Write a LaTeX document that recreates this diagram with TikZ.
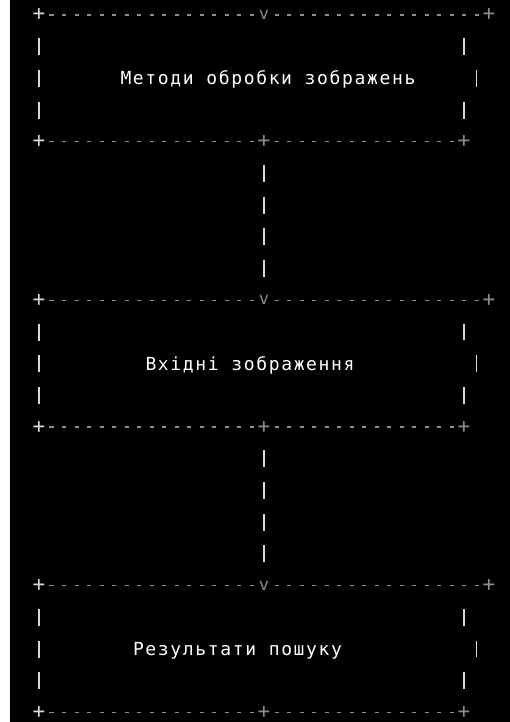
\documentclass[tikz,border=0pt]{standalone}
\usepackage{fontspec}
\newfontfamily\asciifont{DejaVu Sans Mono}[LetterSpace=9.2]
\newfontfamily\glyphfont{DejaVu Sans Mono}
\definecolor{dim}{HTML}{8C8C8C}
\definecolor{lite}{HTML}{D8D8D8}
\tikzset{
  dsh/.style={draw=dim,line width=1.3pt,dash pattern=on 4pt off 8.5pt},
  bar/.style={draw=lite,line width=1.6pt},
  side/.style={bar,dash pattern=on 17pt off 14.7pt},
  lnk/.style={side,shorten <=23.2pt,shorten >=23.2pt},
  crn/.style={inner sep=0pt,text=dim,font=\glyphfont\fontsize{21}{21}\selectfont},
  vv/.style={crn,font=\glyphfont\fontsize{17}{17}\selectfont},
  lbl/.style={anchor=base west,inner sep=0pt,text=white,font=\asciifont\fontsize{18}{20}\selectfont},
  every picture/.style={line width=0.5pt},
}
\begin{document}
\begin{tikzpicture}[x=12.5pt,y=-31.7pt]
\fill[white] (-3.12,-0.473) rectangle (37.68,22.303);
\fill[black] (-2.32,-0.473) rectangle (37.68,22.303);
\foreach \t/\c/\s/\n in {0/7/Методи обробки зображень/b1,9/9/Вхідні зображення/b2,18/8/Результати пошуку/b3}{
  \pgfmathtruncatemacro\b{\t+4}
  \node[crn,text=lite] (\n-tl) at (0,\t){+}; \node[vv] (\n-v) at (18,\t){v}; \node[crn] (\n-tr) at (36,\t){+};
  \draw[dsh] (0.84,\t)--(17.16,\t); \draw[dsh] (18.84,\t)--(35.16,\t);
  \draw[side] (0,\t+0.732)--(0,\t+3.268);
  \draw[bar] (34,\t+0.732)--(34,\t+1.268); \draw[bar] (35,\t+1.732)--(35,\t+2.268); \draw[bar] (34,\t+2.732)--(34,\t+3.268);
  \node[lbl] (\n) at (\c-0.5,\t+2.2){\s};
  \node[crn,text=lite] (\n-bl) at (0,\b){+}; \node[crn] (\n-p) at (18,\b){+}; \node[crn] (\n-br) at (34,\b){+};
  \draw[dsh] (0.84,\b)--(17.16,\b); \draw[dsh] (18.84,\b)--(33.16,\b);
}
\draw[lnk] (b1-p.center)--(b2-v.center); \draw[lnk] (b2-p.center)--(b3-v.center);
\end{tikzpicture}
\end{document}
